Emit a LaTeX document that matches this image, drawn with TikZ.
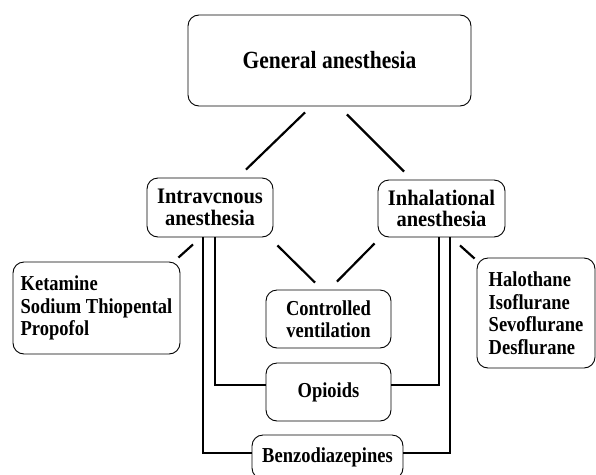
\documentclass[tikz,border=0pt]{standalone}
\usepackage{fontspec}
\setmainfont{Liberation Serif}
\usetikzlibrary{calc}
\newcommand{\tl}[1]{\scalebox{1}[1.15]{#1}}
\newcommand{\tm}[1]{\scalebox{1}[1.08]{#1}}
\tikzset{
  box/.style={draw, rounded corners=11pt, line width=0.9pt, inner sep=0pt, font=\bfseries},
  conn/.style={line width=2.2pt},
  gentext/.style={font=\fontsize{21.5}{24}\selectfont\bfseries},
  midtext/.style={font=\fontsize{20.5}{21.5}\selectfont\bfseries},
  itemtext/.style={font=\fontsize{18.5}{22.5}\selectfont\bfseries}
}
\begin{document}
\begin{tikzpicture}[x=1pt,y=-1pt]
\useasboundingbox (0,0) rectangle (596,474);
\clip (0,0) rectangle (596,474);
\fill[white] (0,0) rectangle (596,474);
% boxes
\node[box, gentext, minimum width=283pt, minimum height=91pt] (gen) at (329.5,60.5) {\tl{General anesthesia}};
\node[box, midtext, align=center, minimum width=126pt, minimum height=59pt] (iv) at (210,207.5) {\tm{Intravcnous}\\\tm{anesthesia}};
\node[box, font=\fontsize{20.5}{21.5}\selectfont\bfseries, align=center, minimum width=127pt, minimum height=57pt] (inh) at (441.5,208.5) {\tm{Inhalational}\\\tm{anesthesia}};
\node[box, itemtext, align=left, minimum width=167pt, minimum height=92pt] (ket) at (96.5,308) {\tl{Ketamine}\\\tl{Sodium Thiopental}\\\tl{Propofol}};
\node[box, itemtext, align=left, minimum width=118pt, minimum height=110pt] (hal) at (536,313) {\tl{Halothane}\\\tl{Isoflurane}\\\tl{Sevoflurane}\\\tl{Desflurane}};
\node[box, itemtext, align=center, minimum width=125pt, minimum height=58pt] (cv) at (328.5,319) {\tl{Controlled}\\\tl{ventilation}};
\node[box, itemtext, minimum width=125pt, minimum height=58pt] (op) at (328.5,392) {\tl{Opioids}};
\node[box, itemtext, minimum width=151pt, minimum height=44pt] (bz) at (327.5,457) {\tl{Benzodiazepines}};
% connectors
\draw[conn] ($(gen.south)+(-24.5,6)$) -- ($(iv.north)+(36,-8)$);
\draw[conn] ($(gen.south)+(17.5,8)$) -- ($(inh.north)+(-37.5,-8)$);
\draw[conn] ($(iv.south)+(-17,7)$) -- ($(ket.north east)+(-2,-4)$);
\draw[conn] ($(iv.south east)+(4,8)$) -- ($(cv.north)+(-13.5,-7)$);
\draw[conn] ($(inh.south west)+(-3,6)$) -- ($(cv.north)+(8.5,-8)$);
\draw[conn] ($(inh.south)+(18.5,8)$) -- ($(hal.north west)+(-2,1)$);
\draw[conn] ($(iv.south)+(5,0)$) |- ($(op.west)+(0,-7)$);
\draw[conn] ($(inh.south)+(-2.5,0)$) |- ($(op.east)+(0,-7)$);
\draw[conn] ($(iv.south)+(-7,0)$) |- ($(bz.west)+(0,-4)$);
\draw[conn] ($(inh.south)+(8.5,0)$) |- ($(bz.east)+(0,-4)$);
\end{tikzpicture}
\end{document}
